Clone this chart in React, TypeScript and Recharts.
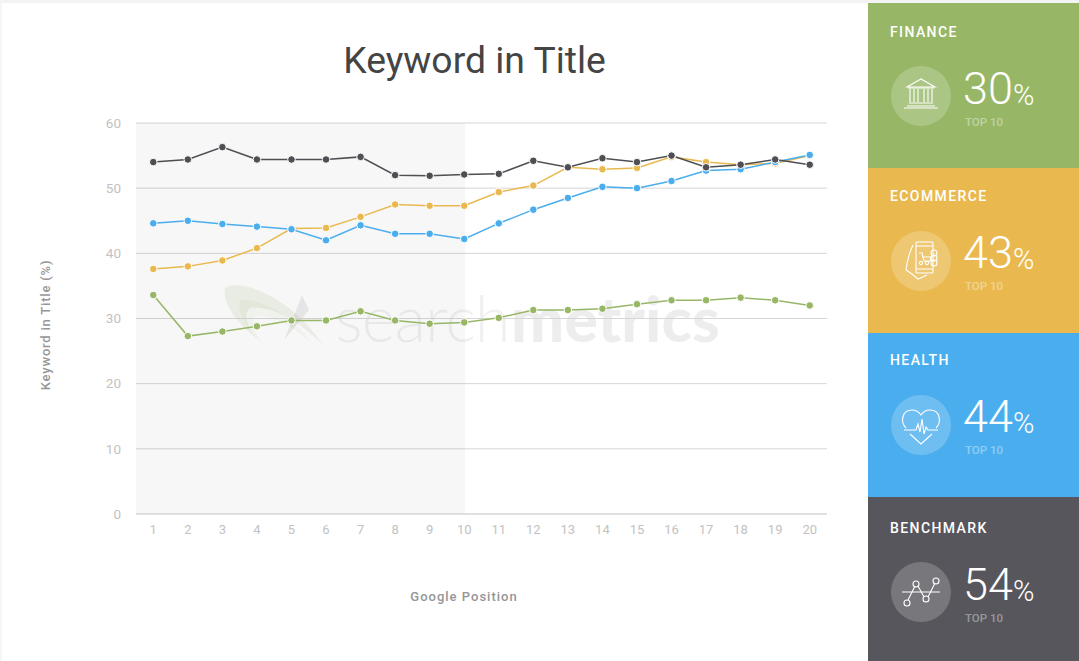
import React from "react";
import {
  ComposedChart,
  Line,
  XAxis,
  YAxis,
  CartesianGrid,
  ReferenceArea,
} from "recharts";

const positions = [1, 2, 3, 4, 5, 6, 7, 8, 9, 10, 11, 12, 13, 14, 15, 16, 17, 18, 19, 20];
const finance = [33.6, 27.3, 28, 28.8, 29.7, 29.7, 31.1, 29.7, 29.2, 29.4, 30.1, 31.3, 31.3, 31.5, 32.2, 32.8, 32.8, 33.2, 32.8, 32];
const ecommerce = [37.6, 38, 38.9, 40.8, 43.8, 43.9, 45.6, 47.5, 47.3, 47.3, 49.4, 50.4, 53.2, 52.9, 53.1, 54.8, 54, 53.6, 53.8, 55];
const health = [44.6, 45, 44.5, 44.1, 43.7, 42, 44.3, 43, 43, 42.2, 44.6, 46.7, 48.5, 50.2, 50, 51.1, 52.7, 52.9, 54, 55.1];
const benchmark = [54, 54.4, 56.3, 54.4, 54.4, 54.4, 54.8, 52, 51.9, 52.1, 52.2, 54.2, 53.2, 54.6, 54, 55, 53.2, 53.6, 54.4, 53.6];
const yTicks = [0, 10, 20, 30, 40, 50, 60];

const GREEN = "#97B767";
const YELLOW = "#E9B94F";
const BLUE = "#4AAEEE";
const DARK = "#57565C";
const FONT = "Roboto, sans-serif";

const rows = positions.map((p, i) => ({
  p,
  finance: finance[i],
  ecommerce: ecommerce[i],
  health: health[i],
  benchmark: benchmark[i],
}));

const seriesList = [
  { key: "finance", color: GREEN },
  { key: "ecommerce", color: YELLOW },
  { key: "health", color: BLUE },
  { key: "benchmark", color: "#4F4E53" },
];

const ico = { fill: "none", stroke: "#fff", strokeWidth: 1.1 };

const BankIcon = () => (
  <g {...ico}>
    <path d="M-14 -9 L0 -17 L14 -9 Z" />
    <path d="M-13 -8 H13 M-12 7 H12 M-14 10 H14 M-17 12 H17" />
    <path d="M-11 -7 V6 M-7 -7 V6 M-3 -7 V6 M3 -7 V6 M7 -7 V6 M11 -7 V6" />
  </g>
);
const PhoneIcon = () => (
  <g {...ico}>
    <rect x={-5} y={-19} width={17} height={31} rx={1} />
    <path d="M-5 -15 H12 M-5 8 H12" />
    <path d="M-2 -8 H1 L3 0 H9 M1 -4 H10 L9 1" />
    <circle cx={0} cy={2} r={1.6} />
    <circle cx={6} cy={2} r={1.6} />
    <path d="M-8 -16 Q-13 -6 -15 9 L-9 13 L-3 18 L6 14" />
    <circle cx={13} cy={-8} r={3} />
    <circle cx={13} cy={-3} r={3} />
    <circle cx={13} cy={2} r={3} />
  </g>
);
const HeartIcon = () => (
  <g {...ico}>
    <path d="M-15 3 C-21 -3 -19 -15 -9 -15 C-5 -15 -2 -13 0 -10 C2 -13 5 -15 9 -15 C19 -15 21 -3 15 3" />
    <path d="M-17 5 H-5 L-3 -1 L-1 7 L1 -6 L3 9 L5 2 L7 5 H17" />
    <path d="M-11 9 L0 19 L11 9" />
  </g>
);
const TrendIcon = () => (
  <g {...ico}>
    <path d="M-19 0 H19" />
    <path d="M-13 8 L-6 -6 M-3 -6 L3 5 M7 5 L14 -9" />
    <circle cx={-14} cy={11} r={3} />
    <circle cx={-5} cy={-8} r={3} />
    <circle cx={5} cy={7} r={3} />
    <circle cx={15} cy={-11} r={3} />
  </g>
);

const panels = [
  { name: "FINANCE", value: "30", color: GREEN, top: 3, h: 165, Icon: BankIcon, dy: 0, cy: 93, vx: 95 },
  { name: "ECOMMERCE", value: "43", color: YELLOW, top: 168, h: 165, Icon: PhoneIcon, dy: -1, cy: 93, vx: 95 },
  { name: "HEALTH", value: "44", color: BLUE, top: 333, h: 164, Icon: HeartIcon, dy: -2, cy: 92, vx: 95 },
  { name: "BENCHMARK", value: "54", color: DARK, top: 497, h: 164, Icon: TrendIcon, dy: 2, cy: 95, vx: 95 },
];

const Panels = () => (
  <svg width={211} height={661} style={{ position: "absolute", left: 868, top: 0 }} fontFamily={FONT}>
    {panels.map((b) => (
      <g key={b.name} transform={`translate(0 ${b.top})`}>
        <rect width={211} height={b.h} fill={b.color} />
        <text x={22} y={34 + b.dy} fill="#fff" fontSize={14} fontWeight={500} letterSpacing={1.4}>
          {b.name}
        </text>
        <g transform={`translate(53 ${b.cy})`}>
          <circle r={30} fill="#fff" fillOpacity={0.2} />
          <b.Icon />
        </g>
        <text x={b.vx} y={101 + b.dy} fill="#fff" fontSize={45} fontWeight={300}>
          {b.value}
        </text>
        <text x={145} y={102 + b.dy} fill="#fff" fontSize={29} fontWeight={300}>
          %
        </text>
        <text x={97} y={123 + b.dy} fill="#fff" fillOpacity={0.4} fontSize={11.5} fontWeight={500}>
          TOP 10
        </text>
      </g>
    ))}
  </svg>
);

const Watermark = () => (
  <svg width={868} height={661} style={{ position: "absolute", left: 0, top: 0, pointerEvents: "none" }}>
    <path d="M225 288 C240 278 290 296 323 345 C298 320 270 305 250 308 C240 318 252 335 264 343 C240 328 222 305 225 288 Z" fill="#8FA85A" fillOpacity={0.12} />
    <path d="M240 300 C262 298 296 318 312 344 C294 326 270 314 256 316 C250 324 256 335 262 342 C248 330 236 312 240 300 Z" fill="#8FA85A" fillOpacity={0.06} />
    <path d="M302 295 L309 310 L284 340 L295 313 Z" fill="#000" fillOpacity={0.07} />
    <text x={335} y={342} fontFamily="Lato, sans-serif" fontWeight={300} fontSize={65} fill="#000" fillOpacity={0.06} letterSpacing={-1}>
      search
    </text>
    <text x={511} y={342} fontFamily="Lato, sans-serif" fontWeight={900} fontSize={63} fill="#000" fillOpacity={0.07}>
      metrics
    </text>
  </svg>
);

export default function App() {
  return (
    <div style={{ position: "absolute", left: 0, top: 0, width: 1079, height: 661, background: "#fff", overflow: "hidden", fontFamily: FONT }}>
      <div style={{ position: "absolute", left: 0, top: 0, width: 1079, height: 3, background: "#F3F3F3" }} />
      <div style={{ position: "absolute", left: 0, top: 0, width: 2, height: 661, background: "#F6F6F6" }} />
      <Watermark />
      <div style={{ position: "absolute", left: 0, width: 868, top: 36, textAlign: "center", paddingLeft: 81, boxSizing: "border-box", fontSize: 37.3, color: "#444444", lineHeight: "48px" }}>
        Keyword in Title
      </div>
      <ComposedChart
        width={868}
        height={661}
        data={rows}
        margin={{ top: 123, right: 41, bottom: 117, left: 0 }}
        style={{ position: "absolute", left: 0, top: 0 }}
      >
        <ReferenceArea x1={0.5} x2={10.03} y1={0} y2={60} fill="#000" fillOpacity={0.03} stroke="none" ifOverflow="hidden" />
        <CartesianGrid vertical={false} stroke="#D6D6D6" strokeWidth={1} />
        <XAxis
          dataKey="p"
          type="number"
          domain={[0.5, 20.5]}
          ticks={positions}
          interval={0}
          height={30}
          tickLine={false}
          axisLine={{ stroke: "#D6D6D6" }}
          tick={{ fill: "#C2C2C2", fontSize: 13, fontFamily: FONT }}
          tickMargin={5}
        />
        <YAxis
          width={136}
          domain={[0, 60]}
          ticks={yTicks}
          tickLine={false}
          axisLine={false}
          tick={{ fill: "#C2C2C2", fontSize: 13.5, fontFamily: FONT }}
          tickMargin={9}
        />
        {seriesList.map((s) => (
          <Line
            key={s.key}
            dataKey={s.key}
            type="linear"
            stroke={s.color}
            strokeWidth={1.5}
            dot={{ r: 3.8, fill: s.color, stroke: "#fff", strokeWidth: 1 }}
            activeDot={false}
            isAnimationActive={false}
          />
        ))}
      </ComposedChart>
      <svg width={868} height={661} style={{ position: "absolute", left: 0, top: 0 }} fontFamily={FONT}>
        <text x={464} y={601} textAnchor="middle" fill="#969696" fontSize={13} fontWeight={500} letterSpacing={1}>
          Google Position
        </text>
        <text transform="translate(50 325) rotate(-90)" textAnchor="middle" fill="#969696" fontSize={13} fontWeight={500} letterSpacing={0.8}>
          Keyword in Title (%)
        </text>
      </svg>
      <Panels />
    </div>
  );
}
